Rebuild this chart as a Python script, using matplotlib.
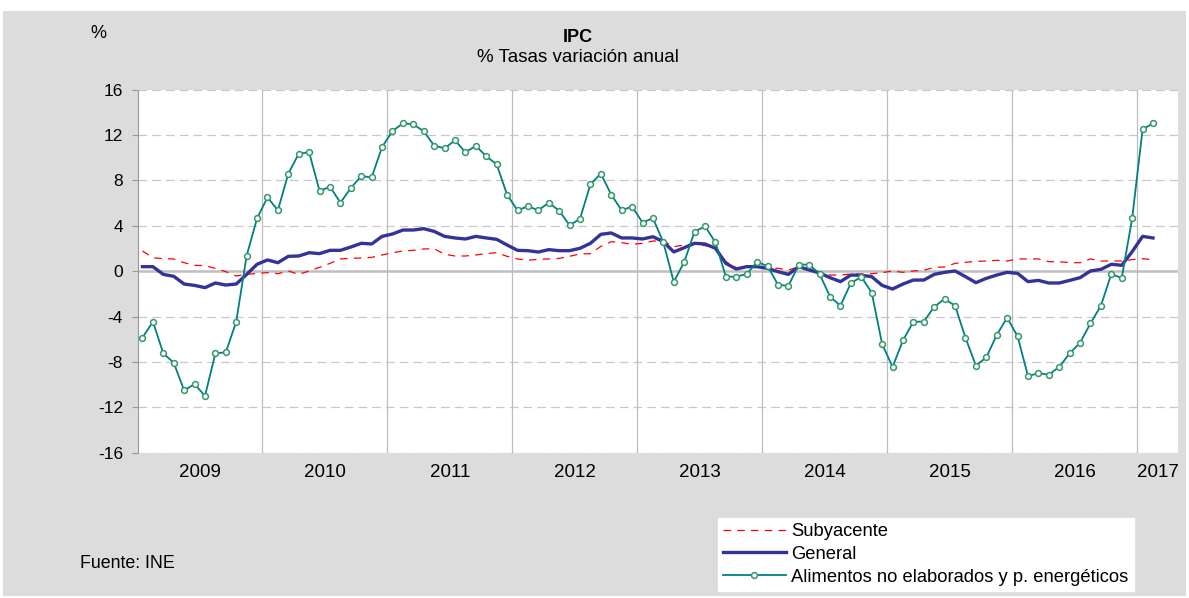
import matplotlib.pyplot as plt
import matplotlib.patches as mpatches
import numpy as np

plt.rcParams['font.family'] = ['Liberation Sans', 'DejaVu Sans']
plt.rcParams['axes.unicode_minus'] = False

# monthly data, Jan 2009 - Feb 2017
years = ['2009', '2010', '2011', '2012', '2013', '2014', '2015', '2016', '2017']

subyacente = [1.78, 1.19, 1.10, 1.08, 0.75, 0.52, 0.49, 0.25, -0.04, -0.42, -0.28, -0.19,
              -0.13, -0.22, 0.02, -0.28, 0.02, 0.34, 0.69, 1.08, 1.13, 1.16, 1.22, 1.43,
              1.63, 1.78, 1.84, 1.96, 1.98, 1.49, 1.34, 1.34, 1.43, 1.55, 1.63, 1.31,
              1.08, 0.96, 1.05, 1.08, 1.13, 1.31, 1.52, 1.55, 2.19, 2.60, 2.52, 2.37,
              2.46, 2.66, 2.66, 2.16, 2.31, 2.40, 2.25, 2.07, 0.84, 0.31, 0.37, 0.40,
              0.31, 0.25, 0.11, 0.37, 0.19, -0.16, -0.34, -0.34, -0.25, -0.25, -0.22, -0.13,
              0.02, -0.10, 0.02, 0.08, 0.34, 0.37, 0.69, 0.78, 0.87, 0.90, 0.96, 0.90,
              1.08, 1.08, 1.08, 0.84, 0.84, 0.75, 0.75, 1.08, 0.90, 0.90, 0.90, 1.02,
              1.10, 1.02]

general = [0.40, 0.40, -0.28, -0.45, -1.13, -1.25, -1.45, -1.04, -1.22, -1.13, -0.28, 0.61,
           0.99, 0.75, 1.31, 1.34, 1.63, 1.55, 1.84, 1.84, 2.13, 2.46, 2.40, 3.07,
           3.28, 3.63, 3.63, 3.75, 3.51, 3.07, 2.93, 2.84, 3.07, 2.93, 2.81, 2.31,
           1.84, 1.81, 1.69, 1.90, 1.81, 1.81, 2.02, 2.46, 3.25, 3.37, 2.93, 2.93,
           2.84, 3.04, 2.60, 1.70, 2.07, 2.46, 2.40, 2.02, 0.69, 0.19, 0.40, 0.40,
           0.25, -0.04, -0.28, 0.40, 0.11, -0.16, -0.57, -0.92, -0.34, -0.36, -0.48, -1.25,
           -1.57, -1.13, -0.78, -0.78, -0.28, -0.10, 0.02, -0.48, -1.01, -0.63, -0.34, -0.10,
           -0.19, -0.92, -0.81, -1.04, -1.04, -0.81, -0.57, 0.02, 0.16, 0.61, 0.52, 1.72,
           3.07, 2.93]

alimentos = [-5.86, -4.45, -7.24, -8.07, -10.51, -9.95, -11.0, -7.24, -7.15, -4.45, 1.37, 4.66,
             6.51, 5.37, 8.60, 10.36, 10.48, 7.07, 7.45, 6.04, 7.33, 8.39, 8.27, 10.95,
             12.36, 13.03, 12.95, 12.33, 11.07, 10.83, 11.54, 10.48, 11.05, 10.13, 9.42, 6.74,
             5.37, 5.72, 5.37, 6.04, 5.33, 4.04, 4.63, 7.66, 8.60, 6.74, 5.37, 5.70,
             4.29, 4.68, 2.54, -0.95, 0.81, 3.49, 3.96, 2.54, -0.48, -0.48, -0.25, 0.81,
             0.46, -1.19, -1.30, 0.58, 0.58, -0.25, -2.25, -3.04, -1.05, -0.50, -1.89, -6.42,
             -8.44, -6.10, -4.45, -4.45, -3.13, -2.45, -3.04, -5.86, -8.33, -7.60, -5.62, -4.10,
             -5.74, -9.24, -9.00, -9.12, -8.44, -7.24, -6.30, -4.60, -3.04, -0.25, -0.60, 4.66,
             12.50, 13.03]

x = np.arange(len(general))

fig = plt.figure(figsize=(11.89, 5.98), dpi=100, facecolor='white')
fig.patches.append(mpatches.Rectangle((3 / 1189, 2 / 598), 1183 / 1189, 585 / 598,
                                      transform=fig.transFigure, facecolor='#dcdcdc',
                                      edgecolor='none', zorder=-10))

ax = fig.add_axes([138.3 / 1189, 1 - 452.7 / 598, (1178 - 138.3) / 1189, 363 / 598])
ax.set_facecolor('white')

x0, x1 = -0.4, 99.4
ax.set_xlim(x0, x1)
ax.set_ylim(-16, 16)

# grid
for v in range(-16, 17, 4):
    if v == 0:
        ax.axhline(0, color='#bfbfbf', lw=1.8, zorder=1)
    else:
        ax.axhline(v, color='#c8c8c8', lw=0.9, dashes=(7, 4), zorder=1)
bounds = [11.5 + 12 * k for k in range(8)]
for b in bounds:
    ax.axvline(b, color='#bdbdbd', lw=0.9, zorder=1)

edges = [x0] + bounds + [x1]
centers = [(edges[i] + edges[i + 1]) / 2 for i in range(len(years))]
ax.set_xticks(centers)
ax.set_xticklabels(years, fontsize=13.5)
ax.tick_params(axis='x', length=0, pad=8)

ax.set_yticks(range(-16, 17, 4))
ax.tick_params(axis='y', length=4, color='#999999', labelsize=12.5, pad=7)

for s in ['top', 'right', 'bottom']:
    ax.spines[s].set_visible(False)
ax.spines['left'].set_color('#999999')

ax.plot(x, subyacente, color='#ff0000', lw=0.9, dashes=(6, 5), zorder=3, label='Subyacente')
ax.plot(x, general, color='#333399', lw=2.4, zorder=4, label='General')
ax.plot(x, alimentos, color='#008080', lw=1.3, marker='o', ms=4.2, mfc='white',
        mec='#339966', mew=1.1, zorder=5, label='Alimentos no elaborados y p. energéticos')

leg = ax.legend(loc='upper left', bbox_to_anchor=(717.7 / 1189, 1 - 517.7 / 598),
                bbox_transform=fig.transFigure, frameon=True, fancybox=False,
                facecolor='white', edgecolor='white', framealpha=1, fontsize=13.2,
                numpoints=1, handlelength=3.4, handletextpad=0.3, labelspacing=0.31,
                borderpad=0.3, borderaxespad=0)

fig.text(578 / 1189, 1 - 37 / 598, 'IPC', ha='center', va='center', fontsize=13, fontweight='bold')
fig.text(578 / 1189, 1 - 58 / 598, '% Tasas variación anual', ha='center', va='center', fontsize=13.5)
fig.text(98 / 1189, 1 - 33 / 598, '%', ha='center', va='center', fontsize=13)
fig.text(80 / 1189, 1 - 563 / 598, 'Fuente: INE', ha='left', va='center', fontsize=12.8)

fig.savefig('out.png', dpi=100, facecolor=fig.get_facecolor())
